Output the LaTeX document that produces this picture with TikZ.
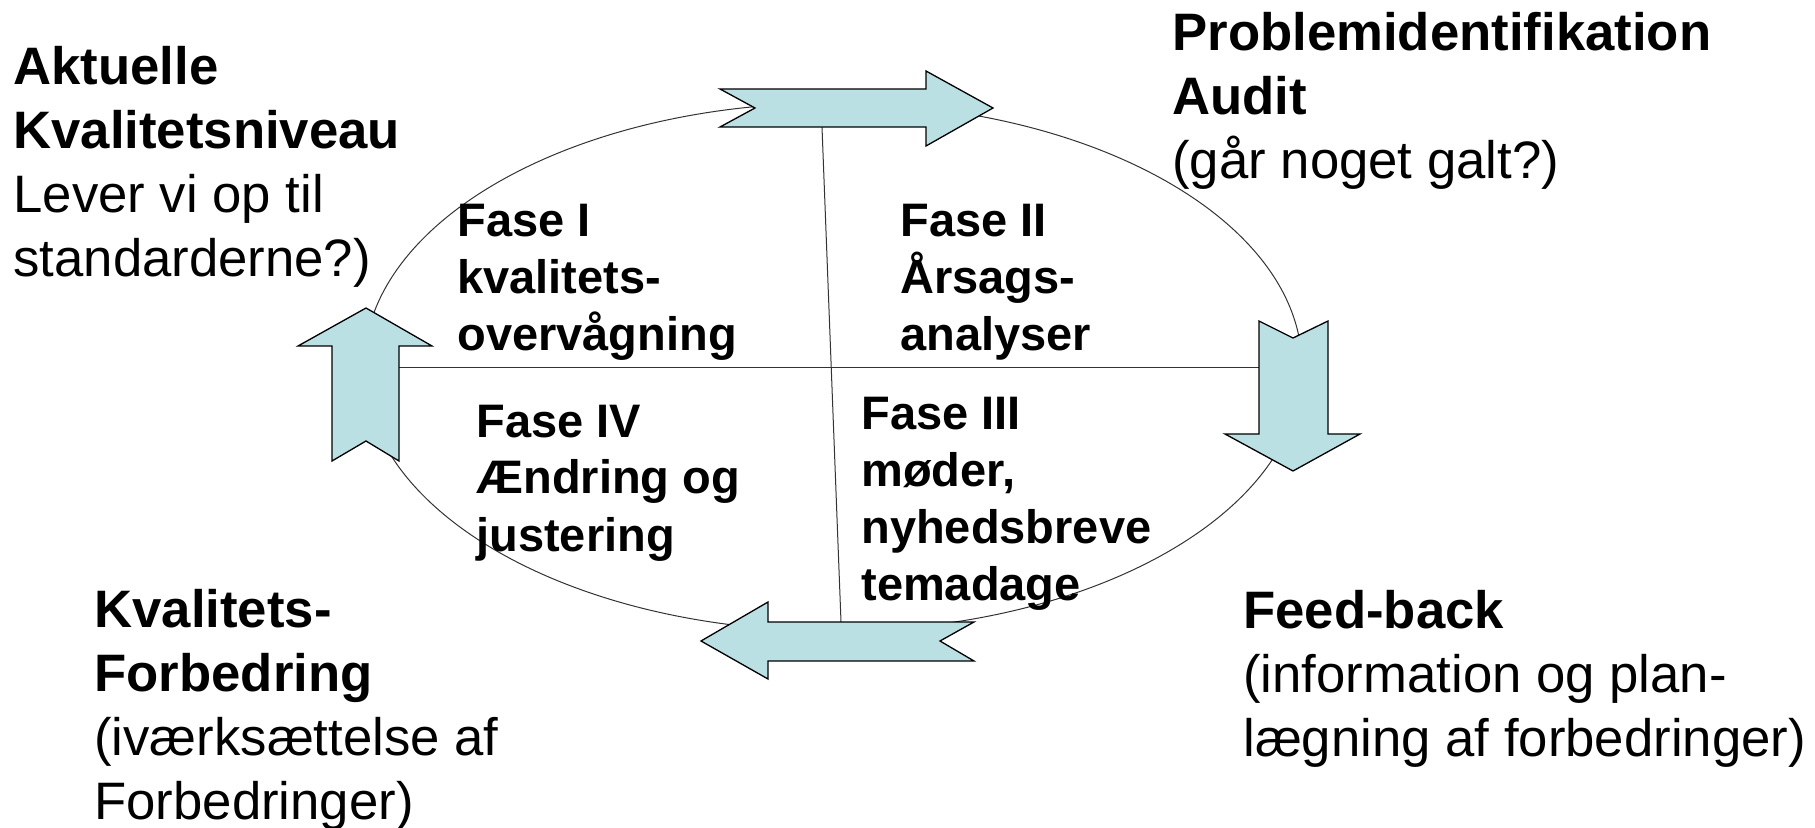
\documentclass[tikz,border=0pt]{standalone}
\usepackage{fontspec}
\setmainfont{Liberation Sans}
\definecolor{arrowfill}{HTML}{BBE0E3}
\definecolor{linegray}{HTML}{333333}
\tikzset{
  bigarrow/.style={draw=black, line width=0.65pt, fill=arrowfill, line join=miter},
  cycleline/.style={draw=linegray, line width=0.5pt},
  cornertext/.style={anchor=base west, inner sep=0pt, align=left, font=\fontsize{26.35}{32}\selectfont},
  phasetext/.style={anchor=base west, inner sep=0pt, align=left, font=\fontsize{23.5}{28.5}\selectfont\bfseries},
}
\begin{document}
\begin{tikzpicture}[x=0.5pt,y=-0.5pt]
\useasboundingbox (0,0) rectangle (1815,828);
% cycle ellipse
\draw[cycleline] (833,367) ellipse [x radius=234.5pt, y radius=132pt];
% cross lines
\coordinate (hl) at (399,368);
\coordinate (hr) at (1259,368);
\coordinate (vt) at (822,127);
\coordinate (vb) at (841,622);
\draw[cycleline] (hl) -- (hr);
\draw[cycleline] (vt) -- (vb);
% arrows
\path[bigarrow] (720,89) -- (926,89) -- (926,71) -- (993,108) -- (926,146) -- (926,127) -- (720,127) -- (755,108) -- cycle;
\path[bigarrow] (1259,321) -- (1293,338) -- (1328,321) -- (1328,434) -- (1360,434) -- (1293,471) -- (1225,434) -- (1259,434) -- cycle;
\path[bigarrow] (701,641) -- (768,602) -- (768,622) -- (974,622) -- (940,641) -- (974,661) -- (768,661) -- (768,679) -- cycle;
\path[bigarrow] (366,308) -- (432,346) -- (399,346) -- (399,461) -- (366,441) -- (332,461) -- (332,346) -- (298,346) -- cycle;
% corner texts (anchored at the baseline of the last line)
\node[cornertext] (tl) at (13,277) {\textbf{Aktuelle}\\\textbf{Kvalitetsniveau}\\Lever vi op til\\standarderne?)};
\node[cornertext] (tr) at (1172,179) {\textbf{Problemidentifikation}\\\textbf{Audit}\\(går noget galt?)};
\node[cornertext] (bl) at (94,819) {\textbf{Kvalitets-}\\\textbf{Forbedring}\\(iværksættelse af\\Forbedringer)};
\node[cornertext] (br) at (1243,756) {\textbf{Feed-back}\\(information og plan-\\lægning af forbedringer)};
% phase texts
\node[phasetext] (f1) at (457,351) {Fase I\\kvalitets-\\overvågning};
\node[phasetext] (f2) at (900,351) {Fase II\\Årsags-\\analyser};
\node[phasetext] (f3) at (861,600) {Fase III\\møder,\\nyhedsbreve\\temadage};
\node[phasetext] (f4) at (476,551) {Fase IV\\Ændring og\\justering};
\end{tikzpicture}
\end{document}
